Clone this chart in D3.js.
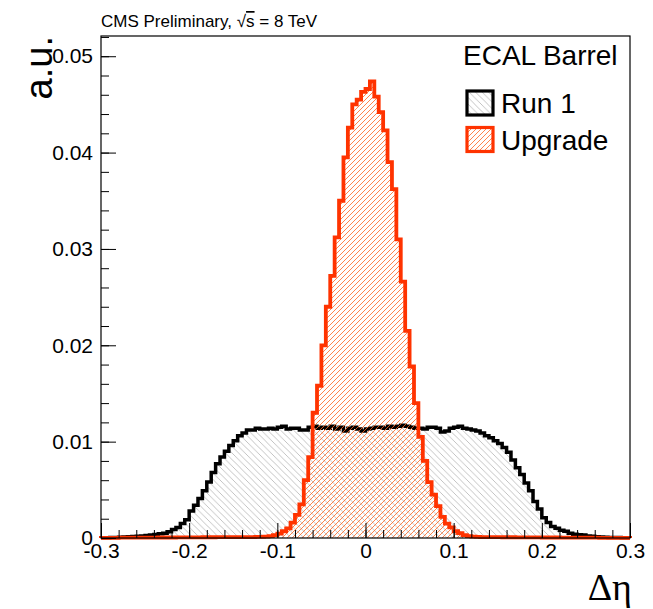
<!DOCTYPE html>
<html><head><meta charset="utf-8">
<script src="https://cdn.jsdelivr.net/npm/d3@7"></script>
<style>
html,body{margin:0;padding:0;background:#fff;}
svg{display:block;font-family:"Liberation Sans",Arial,Helvetica,sans-serif;}
</style></head>
<body>
<svg id="chart" width="653" height="609"></svg>
<script>
// ---- data ----
const binLow = -0.3, binHigh = 0.3, nBins = 120;
const run1 = [
0.00002,0.00003,0.00004,0.00006,0.00008,
0.0001,0.00012,0.00015,0.00018,0.00022,
0.00026,0.0003,0.00036,0.00043,0.0005,
0.00065,0.00088,0.0011,0.0015,0.0019,
0.0028,0.0034,0.0041,0.0049,0.0058,
0.0068,0.0077,0.0084,0.0090,0.0096,
0.0101,0.0106,0.0109,0.0112,0.0112,
0.0114,0.0113,0.0113,0.0114,0.0113,
0.0115,0.0116,0.0113,0.0114,0.0114,
0.0112,0.0112,0.0115,0.0116,0.0114,
0.0115,0.0114,0.0116,0.0113,0.0115,
0.0111,0.0114,0.0115,0.0113,0.0111,
0.0113,0.0114,0.0115,0.0115,0.0114,
0.0116,0.0115,0.0116,0.0117,0.0116,
0.0115,0.0114,0.0114,0.0113,0.0115,
0.0115,0.0114,0.0110,0.0111,0.0114,
0.0115,0.0116,0.0114,0.0113,0.0112,
0.0111,0.0109,0.0106,0.0104,0.0101,
0.0098,0.0094,0.0089,0.0081,0.0073,
0.0066,0.0057,0.0049,0.0038,0.0030,
0.0021,0.0016,0.0012,0.0010,0.0008,
0.0007,0.0005,0.0004,0.00035,0.0003,
0.00022,0.00017,0.00013,0.0001,0.00008,
0.00006,0.00005,0.00004,0.00003,0.00002
];
const upgrade = [
0.00002,0.00002,0.00002,0.00002,0.00003,0.00003,0.00003,0.00003,0.00003,0.00004,
0.00004,0.00004,0.00004,0.00005,0.00005,0.00005,0.00005,0.00006,0.00006,0.00006,
0.00007,0.00007,0.00007,0.00008,0.00008,0.00008,0.00009,0.00009,0.0001,0.0001,
0.0001,0.0001,0.0001,0.0001,0.0001,0.00011,0.00012,
0.00015,0.0002,0.0003,0.00045,0.0007,0.0010,0.0016,0.0024,
0.0035,0.0060,0.0084,0.0130,0.0158,
0.0200,0.0240,0.0272,0.0312,0.0350,
0.0395,0.0426,0.0450,0.0455,0.0463,
0.0466,0.0474,0.0458,0.0442,0.0423,
0.0390,0.0362,0.0310,0.0266,0.0215,
0.0178,0.0140,0.0105,0.0080,0.0058,
0.0045,0.0033,0.0022,0.0015,0.0011,
0.0007,0.0005,0.0003,0.0002,0.00015,
0.00012,0.0001,0.0001,0.0001,0.00009,0.00009,0.00008,0.00008,0.00008,0.00007,
0.00007,0.00007,0.00006,0.00006,0.00006,0.00005,0.00005,0.00005,0.00005,0.00004,
0.00004,0.00004,0.00004,0.00003,0.00003,0.00003,0.00003,0.00003,0.00002,0.00002,
0.00002,0.00002,0.00002,0.00002,0.00002
];
const xMajorTicks = [-0.3,-0.2,-0.1,0,0.1,0.2,0.3];
const xTickLabels = ["-0.3","-0.2","-0.1","0","0.1","0.2","0.3"];
const yMajorTicks = [0,0.01,0.02,0.03,0.04,0.05];
const yTickLabels = ["0","0.01","0.02","0.03","0.04","0.05"];
const yMax = 0.0521;
const seriesNames = ["Run 1","Upgrade"];
const titleText = "CMS Preliminary, ";
const headerText = "ECAL Barrel";
const xTitle = "\u0394\u03b7";
const yTitle = "a.u.";

// ---- layout ----
const L = 101, R = 630, T = 36, B = 538;
const svg = d3.select("#chart");
const x = d3.scaleLinear().domain([binLow, binHigh]).range([L, R]);
const y = d3.scaleLinear().domain([0, yMax]).range([B, T]);
const bw = (binHigh - binLow) / nBins;
const edges = d3.range(nBins + 1).map(i => binLow + i * bw);

const ORANGE = "#ff3300";

// patterns
const defs = svg.append("defs");
function hatch(id, size, color, dir, w) {
  const p = defs.append("pattern").attr("id", id).attr("patternUnits", "userSpaceOnUse")
    .attr("width", size).attr("height", size);
  const s = size;
  const d = dir === "/"
    ? `M0,${s} L${s},0 M${-s/2},${s/2} L${s/2},${-s/2} M${s/2},${s*1.5} L${s*1.5},${s/2}`
    : `M0,0 L${s},${s} M${-s/2},${s/2} L${s/2},${s*1.5} M${s/2},${-s/2} L${s*1.5},${s/2}`;
  p.append("path").attr("d", d).attr("stroke", color).attr("stroke-width", w).attr("fill", "none");
}
hatch("hGray", 6.5, "#b4b4b4", "\\", 0.8);
hatch("hOrange", 5, "#ff6420", "/", 0.8);

function stepPath(vals, close) {
  let d = `M${x(edges[0])},${y(0)}`;
  vals.forEach((v, i) => { d += `V${y(v)}H${x(edges[i + 1])}`; });
  d += `V${y(0)}`;
  if (close) d += "Z";
  return d;
}

// fills
svg.append("path").attr("d", stepPath(run1, true)).attr("fill", "url(#hGray)");
svg.append("path").attr("d", stepPath(run1, false)).attr("fill", "none")
  .attr("stroke", "#000").attr("stroke-width", 3.5).attr("stroke-linejoin", "miter");
svg.append("path").attr("d", stepPath(upgrade, true)).attr("fill", "url(#hOrange)");
svg.append("path").attr("d", stepPath(upgrade, false)).attr("fill", "none")
  .attr("stroke", ORANGE).attr("stroke-width", 3.8).attr("stroke-linejoin", "miter");

// frame
svg.append("rect").attr("x", L).attr("y", T).attr("width", R - L).attr("height", B - T)
  .attr("fill", "none").attr("stroke", "#000").attr("stroke-width", 1.2);

// axes
const xMinor = d3.range(-0.3, 0.3001, 0.02).map(v => +v.toFixed(3));
const yMinor = d3.range(0, 0.0521, 0.002).map(v => +v.toFixed(4));

const gx = svg.append("g").attr("transform", `translate(0,${B})`);
gx.call(d3.axisBottom(x).tickValues(xMinor).tickSize(-8).tickFormat(""));
gx.call(g => g.select(".domain").remove());
const gx2 = svg.append("g").attr("transform", `translate(0,${B})`);
gx2.call(d3.axisBottom(x).tickValues(xMajorTicks).tickSize(-15).tickPadding(5)
  .tickFormat((d, i) => xTickLabels[i]));
gx2.call(g => g.select(".domain").remove());
gx2.selectAll("text").attr("font-size", 21).attr("font-family", "Liberation Sans, Arial, sans-serif").attr("fill", "#000");

const gy = svg.append("g").attr("transform", `translate(${L},0)`);
gy.call(d3.axisLeft(y).tickValues(yMinor).tickSize(-8).tickFormat(""));
gy.call(g => g.select(".domain").remove());
const gy2 = svg.append("g").attr("transform", `translate(${L},0)`);
gy2.call(d3.axisLeft(y).tickValues(yMajorTicks).tickSize(-15).tickPadding(8)
  .tickFormat((d, i) => yTickLabels[i]));
gy2.call(g => g.select(".domain").remove());
gy2.selectAll("text").attr("font-size", 21).attr("font-family", "Liberation Sans, Arial, sans-serif").attr("fill", "#000");
svg.selectAll(".tick line").attr("stroke", "#000").attr("stroke-width", 1);

// title
const t = svg.append("text").attr("x", 101).attr("y", 27).attr("font-size", 17).attr("fill", "#000");
t.append("tspan").text(titleText);
t.append("tspan").text("\u221A");
t.append("tspan").attr("text-decoration", "overline").style("text-decoration", "overline").text("s");
t.append("tspan").text(" = 8 TeV");

// axis titles
svg.append("text").attr("transform", `translate(52,${T}) rotate(-90)`).attr("text-anchor", "end")
  .attr("font-size", 38).attr("fill", "#000").text(yTitle);
svg.append("text").attr("x", 632).attr("y", 600).attr("text-anchor", "end")
  .style("font-family", "'Liberation Serif', 'Times New Roman', serif").attr("font-size", 38).attr("fill", "#000").text(xTitle);

// legend
svg.append("text").attr("x", 463).attr("y", 65).attr("font-size", 28).attr("fill", "#000").text(headerText);
const leg = [{name: seriesNames[0], fill: "url(#hGray)", stroke: "#000"},
             {name: seriesNames[1], fill: "url(#hOrange)", stroke: ORANGE}];
leg.forEach((e, i) => {
  const y0 = 91 + i * 36.5;
  svg.append("rect").attr("x", 467).attr("y", y0).attr("width", 26).attr("height", 24)
    .attr("fill", e.fill).attr("stroke", e.stroke).attr("stroke-width", 3.2);
  svg.append("text").attr("x", 501).attr("y", y0 + 22).attr("font-size", 28).attr("fill", "#000").text(e.name);
});
</script>
</body></html>
